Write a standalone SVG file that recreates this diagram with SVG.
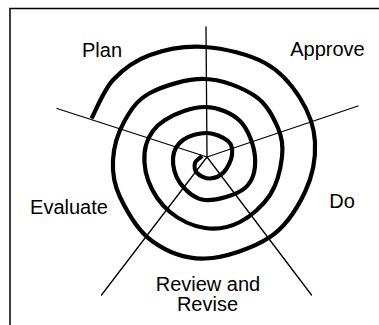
<svg xmlns="http://www.w3.org/2000/svg" width="379" height="325" viewBox="0 0 379 325">
<style>
.frame{fill:none;stroke:#000;stroke-width:1.5}
.spoke{fill:none;stroke:#000;stroke-width:1.3;stroke-linecap:round}
.spiral{fill:none;stroke:#000;stroke-width:4.2;stroke-linecap:butt;stroke-linejoin:round}
.lbl{font-family:"Liberation Sans",Arial,sans-serif;font-size:20px;fill:#000;text-anchor:middle}
</style>
<rect width="379" height="325" fill="#fff"/>
<path class="frame" d="M10 325 V8.5 H379"/>
<g id="connectors">
<line class="spoke" x1="207" y1="157" x2="206" y2="27"/>
<line class="spoke" x1="207" y1="157" x2="358" y2="106"/>
<line class="spoke" x1="207" y1="157" x2="57" y2="108.5"/>
<line class="spoke" x1="207" y1="157" x2="101.5" y2="295"/>
<line class="spoke" x1="207" y1="157" x2="311.5" y2="295"/>
<path id="spiral" class="spiral" d="M91.5 118.5 C95.1 112.1 103.3 90.6 113 80 C122.8 69.4 134.7 60.5 150 55 C165.3 49.5 185.8 45.7 205 47 C224.2 48.3 249.2 54.5 265 63 C280.8 71.5 291.7 84.8 300 98 C308.3 111.2 314.2 126.3 315 142 C315.8 157.7 312.5 176.2 305 192 C297.5 207.8 286.7 225.9 270 237 C253.3 248.1 224.7 257.8 205 258.5 C185.3 259.2 166.2 251.3 152 241 C137.8 230.8 126.5 210.5 120 197 C113.5 183.5 112.3 172.5 113 160 C113.7 147.5 117.8 133.2 124 122 C130.2 110.8 136.5 100.2 150 93 C163.5 85.8 187.5 78.5 205 79 C222.5 79.5 242.8 87.8 255 96 C267.2 104.2 273.5 117.8 278 128 C282.5 138.2 283.3 145.8 282 157 C280.7 168.2 277 184.2 270 195 C263 205.8 250.8 216.5 240 222 C229.2 227.5 216.7 229.7 205 228 C193.3 226.3 179.5 220 170 212 C160.5 204 152 191.2 148 180 C144 168.8 143.2 155 146 145 C148.8 135 155.2 126.3 165 120 C174.8 113.7 192.5 106.8 205 107 C217.5 107.2 231.7 112.7 240 121 C248.3 129.3 254.2 145.8 255 157 C255.8 168.2 253.3 180.8 245 188 C236.7 195.2 215.8 200.8 205 200 C194.2 199.2 185.3 190 180 183 C174.7 176 172.5 165.2 173 158 C173.5 150.8 177.3 144.2 183 140 C188.7 135.8 199.5 132.8 207 133 C214.5 133.2 223.8 137.3 228 141 C232.2 144.7 232.7 149.8 232 155 C231.3 160.2 227.7 168.1 224 172 C220.3 175.9 214.5 178.3 210 178.5 C205.5 178.7 199.5 175.6 197 173 C194.5 170.4 194.2 165.8 195 163 C195.8 160.2 200.8 157.2 202 156"/>
</g>
<g id="plan"><text class="lbl" x="102" y="57">Plan</text></g>
<g id="approve"><text class="lbl" x="327.5" y="56">Approve</text></g>
<g id="do"><text class="lbl" x="342" y="208">Do</text></g>
<g id="review"><text class="lbl" x="208" y="290.5">Review and</text><text class="lbl" x="207.5" y="311">Revise</text></g>
<g id="evaluate"><text class="lbl" x="69" y="214">Evaluate</text></g>
</svg>
